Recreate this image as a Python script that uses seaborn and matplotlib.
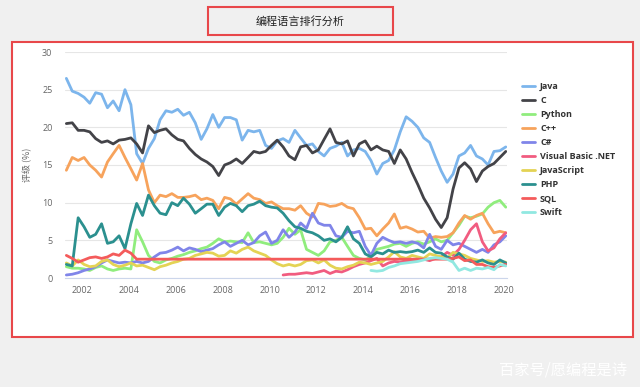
import numpy as np
import pandas as pd
import matplotlib
matplotlib.use("Agg")
import matplotlib.pyplot as plt
import matplotlib.dates as mdates
from matplotlib.patches import Rectangle
from matplotlib.lines import Line2D
import seaborn as sns

# quarterly samples, May 2001 .. Feb 2020
dates = pd.date_range("2001-05-01", periods=76, freq="3MS")

languages = ["Java", "C", "Python", "C++", "C#", "Visual Basic .NET",
             "JavaScript", "PHP", "SQL", "Swift"]
colors = ["#7cb5ec", "#434348", "#90ed7d", "#f7a35c", "#8085e9",
          "#f15c80", "#e4d354", "#2b908f", "#f45b5b", "#91e8e1"]

java = [26.5, 24.8, 24.5,
        24.0, 23.2, 24.6, 24.4,
        22.6, 23.5, 22.2, 25.0,
        23.0, 16.5, 15.2, 17.2,
        18.5, 21.0, 22.2, 22.0,
        22.4, 21.6, 22.0, 20.6,
        18.4, 19.8, 21.7, 20.0,
        21.3, 21.3, 21.0, 18.3,
        19.6, 19.4, 19.6, 17.6,
        17.2, 18.2, 18.5, 18.0,
        19.6, 18.6, 17.6, 17.8,
        16.8, 16.2, 17.2, 17.5,
        18.0, 16.2, 17.0, 17.2,
        16.8, 15.6, 13.8, 15.2,
        15.6, 17.0, 19.4, 21.4,
        20.8, 20.0, 18.6, 18.0,
        16.0, 14.2, 12.7, 13.8,
        16.2, 16.6, 17.6, 16.2,
        15.8, 15.0, 16.8, 16.9,
        17.4]
c_lang = [20.5, 20.6, 19.6,
          19.6, 19.4, 18.5, 18.0,
          18.2, 17.8, 18.3, 18.4,
          18.6, 17.8, 16.6, 20.2,
          19.3, 19.6, 19.8, 19.0,
          18.4, 18.2, 17.2, 16.4,
          15.8, 15.4, 14.8, 13.6,
          15.0, 15.3, 15.8, 15.2,
          16.0, 16.8, 16.6, 16.8,
          17.6, 18.3, 17.4, 16.2,
          15.7, 17.4, 17.6, 16.6,
          17.0, 18.4, 19.8, 18.0,
          17.8, 18.2, 16.2, 17.8,
          18.2, 17.0, 17.5, 17.0,
          16.8, 15.2, 17.0, 15.8,
          14.0, 12.4, 10.6, 9.3,
          7.8, 6.7, 8.0, 11.8,
          14.6, 15.3, 14.5, 12.8,
          14.2, 14.8, 15.2, 16.0,
          16.8]
python = [1.5, 1.3, 1.3,
          1.2, 1.0, 1.4, 1.6,
          1.2, 1.0, 1.2, 1.3,
          1.2, 6.4, 4.8, 3.0,
          2.2, 2.0, 2.4, 2.6,
          2.9, 3.1, 3.4, 3.6,
          3.9, 4.1, 4.6, 5.2,
          4.8, 4.9, 4.8, 4.7,
          6.0, 4.7, 4.8, 4.6,
          4.4, 4.6, 5.4, 6.6,
          5.8, 6.4, 3.8, 3.4,
          3.0, 3.6, 4.8, 5.0,
          5.4, 4.2, 3.0, 2.6,
          2.4, 2.8, 3.8, 4.0,
          4.2, 4.5, 4.6, 4.2,
          4.6, 4.8, 4.5, 4.8,
          5.2, 4.8, 5.0, 6.0,
          7.0, 8.2, 8.0, 8.2,
          8.5, 9.4, 10.0, 10.3,
          9.4]
cpp = [14.3, 16.0, 15.6,
       16.0, 15.0, 14.3, 13.4,
       15.4, 16.5, 17.6, 16.0,
       14.5, 13.0, 15.2, 11.7,
       10.0, 11.0, 10.8, 11.2,
       10.7, 10.7, 10.8, 11.0,
       10.4, 10.6, 10.3, 9.2,
       10.7, 10.5, 9.8, 10.5,
       11.2, 10.6, 10.4, 9.9,
       10.1, 9.6, 9.2, 9.2,
       9.0, 9.6, 8.6, 8.1,
       9.9, 9.8, 9.5, 9.6,
       9.9, 9.4, 9.2, 8.0,
       6.5, 6.6, 5.6, 6.5,
       7.3, 8.5, 6.6, 6.8,
       6.5, 6.1, 6.2, 5.3,
       5.5, 5.4, 5.5, 6.0,
       7.3, 8.3, 7.8, 8.3,
       8.6, 7.2, 6.0, 6.2,
       6.0]
csharp = [0.4, 0.5, 0.7,
          1.0, 1.2, 1.5, 2.0,
          2.4, 2.2, 2.0, 2.1,
          2.0, 2.2, 2.0, 2.2,
          2.8, 3.3, 3.4, 3.7,
          4.1, 3.6, 4.0, 3.8,
          3.5, 3.7, 3.9, 4.4,
          4.8, 4.2, 4.6, 5.0,
          4.4, 4.7, 5.6, 6.1,
          4.6, 5.0, 6.4, 5.4,
          6.1, 7.3, 6.6, 8.6,
          7.3, 7.0, 7.0, 5.6,
          5.4, 6.2, 6.0, 6.2,
          4.2, 3.0, 4.6, 5.4,
          5.0, 4.7, 4.8, 4.6,
          4.8, 4.6, 4.0, 5.8,
          4.2, 3.8, 5.0, 4.4,
          4.6, 4.2, 3.8, 3.4,
          3.8, 3.4, 4.4, 4.8,
          5.6]
# starts late 2010
vbnet = [0.4, 0.5,
         0.5, 0.6, 0.7, 0.6,
         0.8, 1.0, 0.6, 0.9,
         0.8, 1.1, 1.5, 1.8,
         2.0, 2.3, 2.6, 1.6,
         2.0, 2.2, 2.1, 2.3,
         2.2, 2.4, 2.5, 2.3,
         2.6, 2.8, 3.4, 3.0,
         3.8, 5.0, 6.4, 7.2,
         4.8, 3.6, 4.0, 5.2,
         6.0]
javascript = [2.0, 1.6, 2.4,
              1.8, 1.5, 1.6, 2.2,
              2.4, 1.8, 1.5, 1.7,
              2.0, 1.6, 1.7, 1.4,
              1.1, 1.5, 1.7, 2.0,
              2.2, 2.5, 2.6, 3.0,
              3.2, 3.4, 3.3, 2.9,
              3.0, 3.6, 3.3, 3.8,
              4.1, 3.6, 3.3, 3.0,
              2.4, 1.9, 1.6, 1.8,
              1.6, 1.8, 2.3, 2.4,
              2.0, 2.4, 1.7, 1.3,
              1.2, 1.5, 1.7, 2.1,
              2.0, 1.8, 2.0, 2.2,
              2.8, 3.5, 2.8, 2.6,
              3.0, 2.8, 2.6, 3.2,
              3.0, 2.8, 2.6, 3.4,
              3.2, 3.0, 2.6, 2.4,
              2.2, 2.3, 2.1, 2.2,
              2.1]
php = [1.8, 1.6, 8.0,
       6.8, 5.4, 5.8, 7.2,
       4.6, 4.8, 5.6, 3.9,
       7.2, 9.9, 8.3, 11.0,
       9.6, 8.6, 8.4, 10.0,
       9.6, 10.6, 9.8, 8.6,
       9.2, 9.8, 9.8, 8.3,
       9.4, 9.9, 9.6, 8.8,
       9.6, 9.8, 10.2, 9.6,
       9.4, 9.3, 8.6, 7.6,
       6.8, 6.6, 6.2, 6.0,
       5.6, 5.0, 5.2, 4.8,
       5.4, 6.8, 5.2, 4.6,
       3.2, 2.8, 3.4, 3.2,
       3.7, 3.4, 3.5, 3.4,
       3.5, 3.7, 3.4, 4.0,
       3.4, 3.3, 2.8, 2.5,
       3.3, 2.5, 2.2, 2.1,
       2.4, 2.0, 1.8, 2.4,
       2.0]
sql = [3.0, 2.6, 2.1,
       2.4, 2.7, 2.8, 2.6,
       2.8, 3.2, 3.0, 3.7,
       3.3, 2.5, 2.5, 2.5,
       2.5, 2.5, 2.5, 2.5,
       2.5, 2.5, 2.5, 2.5,
       2.5, 2.5, 2.5, 2.5,
       2.5, 2.5, 2.5, 2.5,
       2.5, 2.5, 2.5, 2.5,
       2.5, 2.5, 2.5, 2.5,
       2.5, 2.5, 2.5, 2.5,
       2.5, 2.5, 2.5, 2.5,
       2.5, 2.5, 2.5, 2.5,
       2.5, 2.5, 2.5, 2.5,
       2.5, 2.5, 2.5, 2.5,
       2.5, 2.5, 2.5, 2.5,
       2.5, 2.5, 2.5, 2.6,
       2.8, 2.3, 2.4, 1.8,
       1.8, 1.5, 1.4, 1.6,
       1.8]
# starts mid 2014
swift = [1.0, 0.9, 1.0,
         1.4, 1.6, 1.9, 2.0,
         2.1, 2.2, 2.4, 2.6,
         2.7, 2.6, 2.5, 2.1,
         1.0, 1.3, 1.0, 1.3,
         1.2, 1.4, 1.1, 1.8,
         1.6]

values = [java, c_lang, python, cpp, csharp, vbnet, javascript, php, sql, swift]

frames = []
for name, vals in zip(languages, values):
    # late starters are aligned to the end of the date range
    padded = [np.nan] * (len(dates) - len(vals)) + list(vals)
    frames.append(pd.DataFrame({"date": dates, "rating": padded, "language": name}))
df = pd.concat(frames, ignore_index=True).dropna()

sns.set_style("white")
plt.rcParams["font.family"] = ["Open Sans", "Noto Sans CJK SC", "DejaVu Sans"]

W, H = 640, 387
fig = plt.figure(figsize=(6.4, 3.87), dpi=100)
fig.patch.set_facecolor("#f0f0f0")

# red frames
fig.add_artist(Rectangle((12 / W, 1 - 337 / H), 621 / W, 295 / H, transform=fig.transFigure,
                         facecolor="white", edgecolor="#e8474a", lw=1.5, zorder=-5))
fig.add_artist(Rectangle((208 / W, 1 - 35 / H), 185 / W, 28 / H, transform=fig.transFigure,
                         facecolor="#f0f0f0", edgecolor="#e8474a", lw=1.5, zorder=-5))
fig.text(300.5 / W, 1 - 21 / H, "编程语言排行分析", ha="center", va="center",
         fontsize=8, color="#222222", family=["Noto Sans CJK SC", "DejaVu Sans"])

ax = fig.add_axes([65 / W, 1 - 278 / H, 442 / W, 226 / H])
sns.lineplot(data=df, x="date", y="rating", hue="language", hue_order=languages,
             palette=colors, linewidth=2.0, estimator=None, legend=False, ax=ax)

ax.set_ylim(0, 30)
ax.set_yticks([0, 5, 10, 15, 20, 25, 30])
ax.set_xlim(pd.Timestamp("2001-04-10"), pd.Timestamp("2020-02-20"))
ax.xaxis.set_major_locator(mdates.YearLocator(2))
ax.xaxis.set_major_formatter(mdates.DateFormatter("%Y"))

ax.yaxis.grid(True, color="#e6e6e6", lw=0.8)
ax.xaxis.grid(False)
for side in ["top", "right", "left"]:
    ax.spines[side].set_visible(False)
ax.spines["bottom"].set_color("#ccd6eb")
ax.tick_params(axis="x", length=4, width=0.8, color="#ccd6eb", labelsize=6.5,
               labelcolor="#666666", pad=1.5)
ax.tick_params(axis="y", length=0, labelsize=6.5, labelcolor="#666666", pad=9)

ax.set_xlabel("")
ax.set_ylabel("评级 (%)", fontsize=6.5, color="#666666", family=["Noto Sans CJK SC", "DejaVu Sans"])
ax.yaxis.set_label_coords(-0.075, 0.5)

handles = [Line2D([0], [0], color=c, lw=2) for c in colors]
leg = ax.legend(handles, languages, loc="upper left", bbox_to_anchor=(522 / W, 1 - 82 / H),
                bbox_transform=fig.transFigure, frameon=False, borderpad=0, borderaxespad=0,
                handlelength=1.4, handletextpad=0.6, labelspacing=0.55,
                prop={"weight": "bold", "size": 6.5}, labelcolor="#333333")

fig.text(563 / W, 1 - 370 / H, "百家号/愿编程是诗", ha="center", va="center",
         fontsize=11, color="white", family=["Noto Sans CJK SC", "DejaVu Sans"])

fig.savefig("out.png", dpi=100, facecolor=fig.get_facecolor())
